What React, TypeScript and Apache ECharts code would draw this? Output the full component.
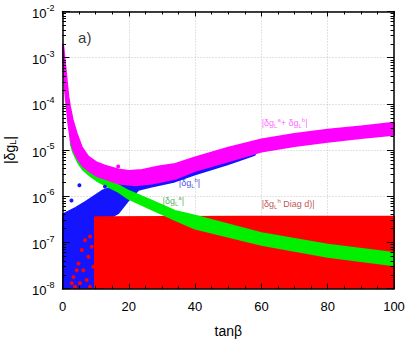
import React, { useEffect, useRef } from 'react';
import * as echarts from 'echarts';

// ---- axis ranges / ticks ----
const X_MIN = 0;
const X_MAX = 100;
const X_MAJOR = 20;
const Y_MIN = 1e-8;
const Y_MAX = 1e-2;

// ---- band outlines: [tanβ, |δg_L|] ----
const magentaUpper: [number, number][] = [
  [0, 1.91e-3], [0.25, 1.74e-3], [0.75, 7.6e-4], [1.26, 3.3e-4], [1.76, 1.45e-4],
  [2.26, 8.7e-5], [3.07, 4.5e-5], [4.27, 2.3e-5], [5.78, 1.17e-5], [7.79, 7.2e-6],
  [10.3, 5.4e-6], [12.8, 4.6e-6], [16.8, 3.8e-6], [20, 3.55e-6], [24, 3.7e-6],
  [29, 4.4e-6], [34, 5.0e-6], [40, 6.9e-6], [50, 1.12e-5], [60, 1.7e-5],
  [70, 2.24e-5], [80, 2.75e-5], [90, 3.24e-5], [100, 3.9e-5],
];
const magentaLower: [number, number][] = [
  [0, 1.32e-3], [0.45, 4.6e-4], [0.75, 2.0e-4], [1.26, 8.7e-5], [1.76, 3.8e-5],
  [2.46, 1.66e-5], [3.27, 1.0e-5], [4.78, 6.2e-6], [6.28, 4.4e-6], [8.3, 3.4e-6],
  [10.3, 2.75e-6], [12.8, 2.4e-6], [16.8, 1.9e-6], [22, 1.74e-6], [27, 1.9e-6],
  [34, 2.4e-6], [40, 3.55e-6], [50, 5.75e-6], [60, 9.3e-6], [70, 1.23e-5],
  [80, 1.51e-5], [90, 1.82e-5], [100, 2.14e-5],
];
const greenUpper: [number, number][] = [
  [2.5, 2.5e-5], [4, 1.26e-5], [6, 6.3e-6], [8, 4.2e-6], [10, 3.16e-6],
  [12.8, 2.5e-6], [16.8, 1.74e-6], [20, 1.3e-6], [26.9, 8.0e-7], [33.9, 4.8e-7],
  [40, 3.8e-7], [60, 1.58e-7], [80, 8.9e-8], [100, 5.9e-8],
];
const greenLower: [number, number][] = [
  [2.5, 1.32e-5], [3.3, 8.7e-6], [4.8, 5.2e-6], [6.3, 3.7e-6], [8.3, 2.8e-6],
  [10.3, 2.19e-6], [12.8, 1.74e-6], [16.8, 1.26e-6], [20, 8.8e-7], [26.9, 5.2e-7],
  [33.9, 3.1e-7], [40, 2.0e-7], [60, 8.9e-8], [80, 4.9e-8], [100, 3.2e-8],
];
const blueUpper: [number, number][] = [
  [0, 4.0e-7], [4, 5.6e-7], [7, 7.6e-7], [9.5, 1.0e-6], [12, 1.32e-6],
  [15, 1.58e-6], [19, 2.0e-6], [23, 2.3e-6], [27, 2.2e-6], [34, 2.6e-6],
  [40, 3.8e-6], [50, 6.0e-6], [58, 8.7e-6],
];
const blueLower: [number, number][] = [
  [0, 5e-9], [12, 5e-9], [13.5, 3.2e-7], [16.8, 4.3e-7], [19.9, 8.3e-7],
  [22.9, 1.38e-6], [26.9, 1.62e-6], [33.9, 2.1e-6], [40, 3.0e-6], [50, 5.0e-6],
  [58, 7.9e-6],
];
const redUpper: [number, number][] = [[9.8, 3.5e-7], [55, 3.6e-7], [101, 3.6e-7]];
const redLower: [number, number][] = [[9.8, 5e-9], [101, 5e-9]];

// ---- isolated points ----
const redDots: [number, number][] = [
  [3.3, 1.8e-8], [4.8, 3.5e-8], [5.8, 6.9e-8], [6.8, 1.12e-7], [8.3, 1.35e-7],
  [7.8, 4.9e-8], [8.8, 8.1e-8], [5.3, 1.32e-8], [3.8, 1.1e-8], [7.3, 1.55e-8],
  [9.3, 3.0e-8], [6.3, 2.5e-8], [4.3, 2.5e-8], [2.8, 1.32e-8], [8.3, 1.1e-8],
];
const blueDots: [number, number][] = [[5.1, 1.74e-6], [2.7, 8.1e-7], [12.8, 1.62e-6]];
const magentaDots: [number, number][] = [[16.8, 4.4e-6]];

// ---- annotations (text, anchor in data space) ----
const annotText = [
  'a)',
  '{t||δg}{sub|L}{sup|a}{t|+ δg}{sub|L}{sup|b}{t||}',
  '{t||δg}{sub|L}{sup|b}{t||}',
  '{t||δg}{sub|L}{sup|a}{t||}',
  '{t||δg}{sub|L}{sup|h}{t| Diag d)|}',
];
const annotPos: [number, number][] = [
  [4.7, 2.8e-3], [60.1, 3.9e-5], [35.1, 1.95e-6], [30.2, 8.0e-7], [60.1, 6.8e-7],
];
const annotColors = ['#000000', '#ff40ff', '#2020e0', '#30a030', '#b02828'];

const FONT = '"Liberation Sans", Arial, sans-serif';

function band(color: string, upper: [number, number][], lower: [number, number][]) {
  const pts = upper.concat(lower.slice().reverse());
  return {
    type: 'custom',
    xAxisIndex: 0,
    yAxisIndex: 0,
    clip: true,
    silent: true,
    data: [pts[0]],
    renderItem: (_params: any, api: any) => ({
      type: 'polygon',
      shape: { points: pts.map((p) => api.coord(p)) },
      style: { fill: color, stroke: color, lineWidth: 2, lineJoin: 'round' },
    }),
  };
}

function dots(color: string, data: [number, number][]) {
  return {
    type: 'scatter',
    xAxisIndex: 0,
    yAxisIndex: 0,
    silent: true,
    symbolSize: 4,
    itemStyle: { color, opacity: 1 },
    data,
  };
}

export default function App() {
  const ref = useRef<HTMLDivElement>(null);
  useEffect(() => {
    if (!ref.current) return;
    const chart = echarts.init(ref.current, undefined, { renderer: 'svg' });

    const minorY: number[] = [];
    for (let e = Math.round(Math.log10(Y_MIN)); e < Math.round(Math.log10(Y_MAX)); e++) {
      for (let m = 2; m <= 9; m++) minorY.push(m * Math.pow(10, e));
    }

    const gridRect = {
      left: 62.5, top: 11.5, width: 331.5, height: 277.2,
      containLabel: false, outerBoundsMode: 'none',
    };
    const frameLine = { show: true, onZero: false, lineStyle: { color: '#000', width: 1.5 } };
    const split = { show: true, lineStyle: { color: '#c4c4c4', width: 1, type: [1, 2] } };

    const option: any = {
      animation: false,
      textStyle: { fontFamily: FONT },
      grid: [
        { ...gridRect },
        { ...gridRect },
        { ...gridRect },
      ],
      xAxis: [
        {
          gridIndex: 0, type: 'value', min: X_MIN, max: X_MAX, interval: X_MAJOR,
          axisLine: { show: false, onZero: false }, axisTick: { show: false },
          axisLabel: { fontSize: 13, color: '#000', margin: 11 },
          splitLine: split,
          name: 'tanβ', nameLocation: 'middle', nameGap: 35,
          nameTextStyle: { fontSize: 14, color: '#000' },
        },
        {
          gridIndex: 1, type: 'value', position: 'bottom', min: X_MIN, max: X_MAX, interval: X_MAJOR, z: 10,
          axisLine: frameLine, axisLabel: { show: false }, splitLine: { show: false },
          axisTick: { show: true, inside: true, length: 5, lineStyle: { color: '#000', width: 1 } },
          minorTick: { show: true, splitNumber: 4, length: 3, lineStyle: { color: '#000', width: 1 } },
        },
        {
          gridIndex: 1, type: 'value', position: 'top', min: X_MIN, max: X_MAX, interval: X_MAJOR, z: 10,
          axisLine: frameLine, axisLabel: { show: false }, splitLine: { show: false },
          axisTick: { show: true, inside: true, length: 5, lineStyle: { color: '#000', width: 1 } },
          minorTick: { show: true, splitNumber: 4, length: 3, lineStyle: { color: '#000', width: 1 } },
        },
        {
          gridIndex: 2, type: 'value', min: X_MIN, max: X_MAX, show: false,
        },
      ],
      yAxis: [
        {
          gridIndex: 0, type: 'log', logBase: 10, min: Y_MIN, max: Y_MAX, interval: 1,
          axisLine: { show: false, onZero: false }, axisTick: { show: false },
          splitLine: split,
          axisLabel: {
            margin: 8,
            formatter: (v: number) => `{b|10}{e|${Math.round(Math.log10(v))}}`,
            rich: {
              b: { fontSize: 13, color: '#000', lineHeight: 17, verticalAlign: 'bottom', fontFamily: FONT },
              e: { fontSize: 9, color: '#000', lineHeight: 10, verticalAlign: 'top', fontFamily: FONT },
            },
          },
          name: '{n||δg}{s|L}{n||}', nameLocation: 'middle', nameRotate: 90, nameGap: 45,
          nameTextStyle: {
            rich: {
              n: { fontSize: 14, color: '#000', fontFamily: FONT, lineHeight: 15, verticalAlign: 'middle' },
              s: { fontSize: 9, color: '#000', fontFamily: FONT, lineHeight: 15, verticalAlign: 'bottom' },
            },
          },
        },
        {
          gridIndex: 1, type: 'log', logBase: 10, position: 'left', min: Y_MIN, max: Y_MAX, interval: 1, z: 10,
          axisLine: frameLine, axisLabel: { show: false }, splitLine: { show: false },
          axisTick: { show: true, inside: true, length: 7, lineStyle: { color: '#000', width: 1 } },
        },
        {
          gridIndex: 1, type: 'log', logBase: 10, position: 'right', min: Y_MIN, max: Y_MAX, interval: 1, z: 10,
          axisLine: frameLine, axisLabel: { show: false }, splitLine: { show: false },
          axisTick: { show: true, inside: true, length: 7, lineStyle: { color: '#000', width: 1 } },
        },
        {
          gridIndex: 2, type: 'log', logBase: 10, position: 'left', min: Y_MIN, max: Y_MAX, z: 10,
          axisLine: { show: false }, axisLabel: { show: false }, splitLine: { show: false },
          axisTick: { show: true, inside: true, length: 3.5, customValues: minorY, lineStyle: { color: '#000', width: 1 } },
        },
        {
          gridIndex: 2, type: 'log', logBase: 10, position: 'right', min: Y_MIN, max: Y_MAX, z: 10,
          axisLine: { show: false }, axisLabel: { show: false }, splitLine: { show: false },
          axisTick: { show: true, inside: true, length: 3.5, customValues: minorY, lineStyle: { color: '#000', width: 1 } },
        },
      ],
      series: [
        band('#1414ff', blueUpper, blueLower),
        dots('#1414ff', blueDots),
        band('#ff0000', redUpper, redLower),
        dots('#ff0000', redDots),
        band('#00f000', greenUpper, greenLower),
        band('#ff00ff', magentaUpper, magentaLower),
        dots('#ff00ff', magentaDots),
        {
          type: 'scatter',
          xAxisIndex: 0,
          yAxisIndex: 0,
          silent: true,
          symbolSize: 0,
          z: 5,
          data: annotPos.map((p, i) => ({
            value: p,
            label: {
              show: true,
              position: 'right',
              distance: 0,
              formatter: annotText[i],
              color: annotColors[i],
              fontSize: i === 0 ? 15 : 9,
              fontFamily: FONT,
              rich: {
                t: { fontSize: 9, color: annotColors[i], fontFamily: FONT, lineHeight: 12, verticalAlign: 'middle' },
                sub: { fontSize: 6, color: annotColors[i], fontFamily: FONT, lineHeight: 12, verticalAlign: 'bottom' },
                sup: { fontSize: 6, color: annotColors[i], fontFamily: FONT, lineHeight: 12, verticalAlign: 'top' },
              },
            },
          })),
        },
      ],
    };
    chart.setOption(option);
    return () => chart.dispose();
  }, []);
  return (
    <div
      ref={ref}
      style={{ position: 'fixed', left: 0, top: 0, width: 410, height: 346, background: '#fff' }}
    />
  );
}
